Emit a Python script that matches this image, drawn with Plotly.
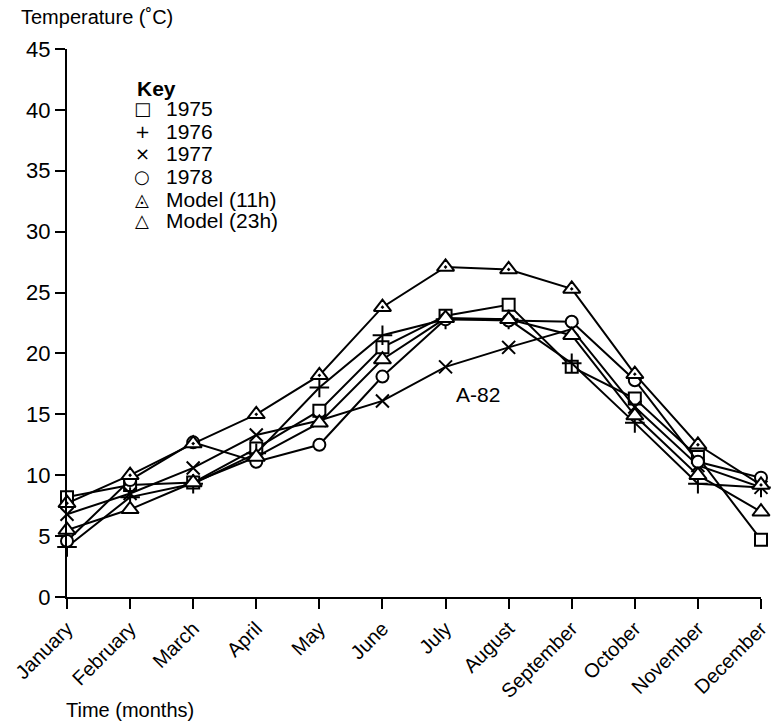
import plotly.graph_objects as go

months = ["January", "February", "March", "April", "May", "June", "July",
          "August", "September", "October", "November", "December"]

series_names = ["1975", "1976", "1977", "1978", "Model (11h)", "Model (23h)"]
t1975 = [8.2, 9.2, 9.4, 12.2, 15.3, 20.5, 23.1, 24.0, 18.9, 16.3, 11.5, 4.7]
t1976 = [4.1, 8.2, 9.3, 11.8, 17.2, 21.5, 22.8, 22.8, 19.2, 14.3, 9.3, 9.0]
t1977 = [6.8, 8.5, 10.6, 13.3, 14.5, 16.1, 18.9, 20.5, 22.0, 15.6, 10.8, 9.0]
t1978 = [4.6, 9.6, 12.7, 11.1, 12.5, 18.1, 22.8, 22.7, 22.6, 17.8, 11.1, 9.8]
model11 = [7.7, 10.0, 12.6, 15.0, 18.2, 23.8, 27.1, 26.9, 25.3, 18.3, 12.5, 9.2]
model23 = [5.5, 7.2, 9.4, 11.5, 14.3, 19.5, 22.9, 22.8, 21.5, 14.9, 10.0, 7.0]
all_series = [t1975, t1976, t1977, t1978, model11, model23]

symbols = ["square", "cross-thin", "x-thin", "circle",
           "triangle-up-dot", "triangle-up"]
sizes = [12, 14, 13, 12, 15, 15]
key_glyphs = ["\u25A1", "+", "\u00D7", "\u25CB", "\u25EC", "\u25B3"]

x_idx = list(range(len(months)))

fig = go.Figure()
for name, vals, sym, sz in zip(series_names, all_series, symbols, sizes):
    fig.add_trace(go.Scatter(
        x=x_idx, y=vals, mode="lines+markers", name=name,
        line=dict(color="black", width=2),
        marker=dict(symbol=sym, size=sz, color="white",
                    line=dict(color="black", width=2)),
        cliponaxis=False, showlegend=False))

FONT = "Liberation Sans, Arial, Helvetica, sans-serif"

# plot-area geometry (pixels) used for placing text in paper coordinates
L, R, T, B = 67, 761, 49, 597
def px(xp):
    return (xp - L) / (R - L)
def py(yp):
    return (B - yp) / (B - T)

ann = []
ann.append(dict(text="Temperature (\u02DAC)", x=px(19), y=py(17), xref="paper", yref="paper",
                xanchor="left", yanchor="middle", showarrow=False,
                font=dict(size=20, color="black", family=FONT)))
ann.append(dict(text="Time (months)", x=px(64), y=py(710), xref="paper", yref="paper",
                xanchor="left", yanchor="middle", showarrow=False,
                font=dict(size=20, color="black", family=FONT)))
ann.append(dict(text="A-82", x=px(478), y=py(394), xref="paper", yref="paper",
                xanchor="center", yanchor="middle", showarrow=False,
                font=dict(size=21, color="black", family=FONT)))
ann.append(dict(text="<b>Key</b>", x=px(135), y=py(88), xref="paper", yref="paper",
                xanchor="left", yanchor="middle", showarrow=False,
                font=dict(size=21, color="black", family=FONT)))
row_y = [109, 131, 154, 176, 199, 221]
for g, name, ry in zip(key_glyphs, series_names, row_y):
    ann.append(dict(text=g, x=px(142), y=py(ry), xref="paper", yref="paper",
                    xanchor="center", yanchor="middle", showarrow=False,
                    font=dict(size=18, color="black", family="DejaVu Sans")))
    ann.append(dict(text=name, x=px(164), y=py(ry), xref="paper", yref="paper",
                    xanchor="left", yanchor="middle", showarrow=False,
                    font=dict(size=21, color="black", family=FONT)))

fig.update_layout(
    width=772, height=727,
    margin=dict(l=L, r=772 - R, t=T, b=727 - B, pad=0, autoexpand=False),
    paper_bgcolor="white", plot_bgcolor="white",
    font=dict(family=FONT, size=20, color="black"),
    annotations=ann,
    xaxis=dict(range=[0, 11], tickvals=x_idx, ticktext=months, tickangle=-45,
               showgrid=False, zeroline=False, showline=True, linecolor="black",
               linewidth=2, ticks="outside", ticklen=10, tickwidth=2,
               tickcolor="black", tickfont=dict(size=20),
               ticklabeloverflow="allow", automargin=False),
    yaxis=dict(range=[0, 45], tickvals=[0, 5, 10, 15, 20, 25, 30, 35, 40, 45],
               showgrid=False, zeroline=False, showline=True, linecolor="black",
               linewidth=2, ticks="outside", ticklen=10, tickwidth=2,
               tickcolor="black", tickfont=dict(size=22), automargin=False),
)

fig.write_html("out.html")
